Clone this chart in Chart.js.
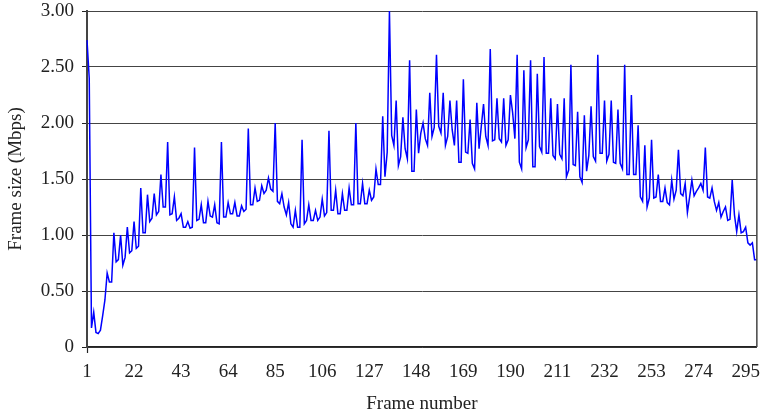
<!DOCTYPE html>
<html>
<head>
<meta charset="utf-8">
<script src="https://cdn.jsdelivr.net/npm/chart.js@4/dist/chart.umd.min.js"></script>
<style>
  html, body { margin: 0; padding: 0; background: #ffffff; }
  #wrap { width: 768px; height: 418px; }
</style>
</head>
<body>
<div id="wrap"><canvas id="c" width="768" height="418"></canvas></div>
<script>
// Frame size (Mbps) per frame, frames 1..300
const frameSizes = [
  2.74, 2.40, 0.17, 0.31, 0.13, 0.12, 0.15, 0.28, 0.42, 0.66,
  0.58, 0.58, 1.02, 0.76, 0.78, 1.00, 0.73, 0.80, 1.07, 0.84,
  0.86, 1.12, 0.88, 0.90, 1.42, 1.02, 1.02, 1.36, 1.12, 1.15,
  1.37, 1.18, 1.21, 1.54, 1.25, 1.25, 1.83, 1.18, 1.19, 1.34,
  1.13, 1.15, 1.19, 1.07, 1.07, 1.12, 1.06, 1.07, 1.78, 1.13,
  1.14, 1.27, 1.11, 1.11, 1.30, 1.17, 1.16, 1.27, 1.11, 1.10,
  1.83, 1.16, 1.16, 1.29, 1.19, 1.19, 1.29, 1.17, 1.17, 1.26,
  1.21, 1.23, 1.95, 1.27, 1.27, 1.42, 1.30, 1.31, 1.44, 1.37,
  1.40, 1.51, 1.41, 1.39, 2.00, 1.30, 1.28, 1.37, 1.25, 1.18,
  1.29, 1.10, 1.07, 1.22, 1.07, 1.07, 1.85, 1.10, 1.13, 1.27,
  1.13, 1.13, 1.22, 1.13, 1.16, 1.32, 1.17, 1.20, 1.93, 1.22,
  1.22, 1.40, 1.19, 1.19, 1.37, 1.22, 1.22, 1.42, 1.27, 1.27,
  2.00, 1.28, 1.28, 1.46, 1.28, 1.28, 1.40, 1.31, 1.34, 1.59,
  1.45, 1.45, 2.06, 1.52, 1.74, 3.00, 1.89, 1.80, 2.20, 1.62,
  1.70, 2.05, 1.77, 1.68, 2.56, 1.57, 1.57, 2.12, 1.73, 1.91,
  2.00, 1.86, 1.80, 2.27, 1.88, 1.96, 2.61, 1.97, 1.91, 2.27,
  1.80, 1.88, 2.20, 1.94, 1.80, 2.20, 1.65, 1.65, 2.39, 1.74,
  1.73, 2.03, 1.64, 1.59, 2.18, 1.77, 1.97, 2.17, 1.88, 1.80,
  2.66, 1.84, 1.85, 2.22, 1.86, 1.83, 2.22, 1.80, 1.85, 2.25,
  2.09, 1.86, 2.61, 1.65, 1.59, 2.47, 1.78, 1.85, 2.56, 1.61,
  1.61, 2.44, 1.79, 1.74, 2.59, 1.73, 1.73, 2.22, 1.71, 1.68,
  2.17, 1.72, 1.68, 2.22, 1.52, 1.58, 2.52, 1.63, 1.62, 2.10,
  1.52, 1.47, 2.07, 1.57, 1.71, 2.15, 1.70, 1.66, 2.61, 1.73,
  1.73, 2.20, 1.66, 1.72, 2.20, 1.65, 1.64, 2.12, 1.64, 1.59,
  2.52, 1.54, 1.54, 2.25, 1.54, 1.54, 1.98, 1.34, 1.30, 1.80,
  1.25, 1.33, 1.85, 1.33, 1.34, 1.54, 1.30, 1.30, 1.42, 1.29,
  1.27, 1.49, 1.32, 1.40, 1.76, 1.37, 1.35, 1.46, 1.20, 1.34,
  1.49, 1.35, 1.39, 1.42, 1.46, 1.40, 1.78, 1.34, 1.33, 1.42,
  1.30, 1.22, 1.29, 1.16, 1.21, 1.25, 1.13, 1.14, 1.49, 1.18,
  1.03, 1.18, 1.02, 1.03, 1.07, 0.93, 0.91, 0.93, 0.78, 0.78
];

// Category labels: frame numbers
const frames = frameSizes.map((_, i) => String(i + 1));

// Labelled x ticks
const xTickLabels = ['1', '22', '43', '64', '85', '106', '127', '148', '169', '190', '211', '232', '253', '274', '295'];

// Y axis
const yMin = 0;
const yMax = 3;
const yStep = 0.5;

const xTitle = 'Frame number';
const yTitle = 'Frame size (Mbps)';

const FONT = "'Liberation Serif', 'Times New Roman', serif";
const TEXT = '#222222';

const rightBorder = {
  id: 'rightBorder',
  afterDraw(chart) {
    const { ctx, chartArea } = chart;
    ctx.save();
    ctx.strokeStyle = '#444444';
    ctx.lineWidth = 1.5;
    ctx.beginPath();
    ctx.moveTo(chartArea.right, chartArea.top);
    ctx.lineTo(chartArea.right, chartArea.bottom);
    ctx.stroke();
    ctx.restore();
  }
};

const isShown = (i) => xTickLabels.includes(frames[i]);

new Chart(document.getElementById('c'), {
  type: 'line',
  data: {
    labels: frames,
    datasets: [{
      data: frameSizes,
      borderColor: '#0000ff',
      borderWidth: 1.5,
      pointRadius: 0,
      tension: 0,
      fill: false
    }]
  },
  options: {
    responsive: false,
    animation: false,
    devicePixelRatio: 1,
    layout: { padding: { top: 0, right: 6, bottom: 0, left: 0 } },
    plugins: {
      legend: { display: false },
      tooltip: { enabled: false }
    },
    scales: {
      x: {
        type: 'category',
        offset: false,
        afterFit(scale) { scale.height = 71; },
        border: { display: true, color: '#222222', width: 1.5 },
        grid: {
          display: true,
          drawOnChartArea: false,
          drawTicks: true,
          tickLength: 6,
          tickWidth: 1.2,
          tickColor: (ctx) => (isShown(ctx.index) ? '#222222' : 'rgba(0,0,0,0)')
        },
        ticks: {
          autoSkip: false,
          maxRotation: 0,
          minRotation: 0,
          padding: 8,
          color: TEXT,
          font: { family: FONT, size: 19 },
          callback: (val, idx) => (isShown(idx) ? frames[idx] : null)
        },
        title: {
          display: true,
          text: xTitle,
          color: TEXT,
          font: { family: FONT, size: 19 },
          padding: { top: 0, bottom: 3 }
        }
      },
      y: {
        min: yMin,
        max: yMax,
        afterFit(scale) {
          scale.width = 87;
          scale.paddingTop = 11;
          scale.paddingBottom = 0;
        },
        border: { display: true, color: '#444444', width: 2 },
        grid: {
          color: '#444444',
          lineWidth: 1,
          drawTicks: true,
          tickLength: 5,
          tickColor: '#222222'
        },
        ticks: {
          stepSize: yStep,
          padding: 8,
          color: TEXT,
          font: { family: FONT, size: 19 },
          callback: (v) => (v === 0 ? '0' : Number(v).toFixed(2))
        },
        title: {
          display: true,
          text: yTitle,
          color: TEXT,
          font: { family: FONT, size: 19 },
          padding: { top: 5, bottom: 0 }
        }
      }
    }
  },
  plugins: [rightBorder]
});
</script>
</body>
</html>
